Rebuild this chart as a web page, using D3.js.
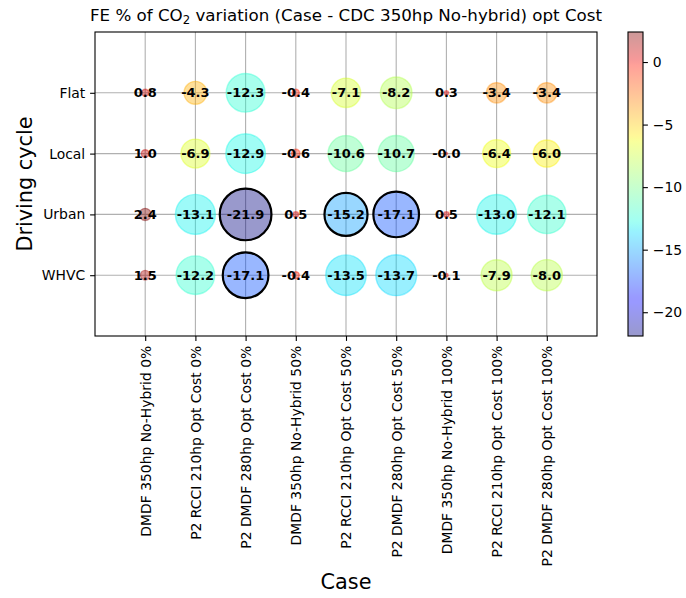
<!DOCTYPE html>
<html>
<head>
<meta charset="utf-8">
<script src="https://cdn.jsdelivr.net/npm/d3@7"></script>
<style>
  html, body { margin: 0; padding: 0; background: #fff; }
  svg { display: block; font-family: "DejaVu Sans", sans-serif; }
</style>
</head>
<body>
<svg id="chart" width="686" height="598"></svg>
<script>
// Case columns (x axis)
const cases = [
  "DMDF 350hp No-Hybrid 0%",
  "P2 RCCI 210hp Opt Cost 0%",
  "P2 DMDF 280hp Opt Cost 0%",
  "DMDF 350hp No-Hybrid 50%",
  "P2 RCCI 210hp Opt Cost 50%",
  "P2 DMDF 280hp Opt Cost 50%",
  "DMDF 350hp No-Hybrid 100%",
  "P2 RCCI 210hp Opt Cost 100%",
  "P2 DMDF 280hp Opt Cost 100%"
];

// Driving cycles, bottom to top
const cycles = ["WHVC", "Urban", "Local", "Flat"];

// FE % of CO2 variation per driving cycle, one value per case
const whvc  = [1.5, -12.2, -17.1, -0.4, -13.5, -13.7, -0.1, -7.9, -8.0];
const urban = [2.4, -13.1, -21.9, 0.5, -15.2, -17.1, 0.5, -13.0, -12.1];
const local = [1.0, -6.9, -12.9, -0.6, -10.6, -10.7, -0.04, -6.4, -6.0];
const flat  = [0.8, -4.3, -12.3, -0.4, -7.1, -8.2, 0.3, -3.4, -3.4];

const colorbarTicks = [0, -5, -10, -15, -20];

const seriesByCycle = [whvc, urban, local, flat];

// Flatten into cells
const cells = [];
seriesByCycle.forEach((vals, r) => {
  vals.forEach((v, c) => cells.push({ row: r, col: c, value: v }));
});

const svg = d3.select("#chart");
svg.append("rect").attr("width", 686).attr("height", 598).attr("fill", "#fff");

const ax = { left: 95, right: 597, top: 32, bottom: 336 };

const x = d3.scaleLinear().domain([-1, cases.length]).range([ax.left, ax.right]);
const y = d3.scaleLinear().domain([-1, cycles.length]).range([ax.bottom, ax.top]);

// Jet colormap built from its piecewise-linear segments
const jetR = d3.scaleLinear().domain([0, 0.35, 0.66, 0.89, 1]).range([0, 0, 1, 1, 0.5]).clamp(true);
const jetG = d3.scaleLinear().domain([0, 0.125, 0.375, 0.64, 0.91, 1]).range([0, 0, 1, 1, 0, 0]).clamp(true);
const jetB = d3.scaleLinear().domain([0, 0.11, 0.34, 0.65, 1]).range([0.5, 1, 1, 0, 0]).clamp(true);
const jet = t => d3.rgb(jetR(t) * 255, jetG(t) * 255, jetB(t) * 255).formatHex();

const allVals = cells.map(d => d.value);
const vmin = d3.min(allVals), vmax = d3.max(allVals);
const norm = d3.scaleLinear().domain([vmin, vmax]).range([0, 1]).clamp(true);
const color = v => jet(norm(v));

const alpha = 0.4;
// Bubble area follows |value|; gains draw at half the area of reductions
const radius = v => Math.sqrt((v < 0 ? 122 : 61) * Math.abs(v)) / 2;

const gridColor = "#b0b0b0";
const g = svg.append("g");

// Grid
g.append("g").selectAll("line").data(cases).join("line")
  .attr("x1", (d, i) => x(i)).attr("x2", (d, i) => x(i))
  .attr("y1", ax.top).attr("y2", ax.bottom)
  .attr("stroke", gridColor).attr("stroke-width", 1.1);
g.append("g").selectAll("line").data(cycles).join("line")
  .attr("y1", (d, i) => y(i)).attr("y2", (d, i) => y(i))
  .attr("x1", ax.left).attr("x2", ax.right)
  .attr("stroke", gridColor).attr("stroke-width", 1.1);

// Bubbles
g.append("g").selectAll("circle").data(cells).join("circle")
  .attr("cx", d => x(d.col)).attr("cy", d => y(d.row))
  .attr("r", d => radius(d.value))
  .attr("fill", d => color(d.value)).attr("fill-opacity", alpha)
  .attr("stroke", d => color(d.value)).attr("stroke-opacity", alpha).attr("stroke-width", 1.4);

// Outline the largest reductions
g.append("g").selectAll("circle").data(cells.filter(d => d.value < -15)).join("circle")
  .attr("cx", d => x(d.col)).attr("cy", d => y(d.row))
  .attr("r", d => radius(d.value))
  .attr("fill", "none").attr("stroke", "#000").attr("stroke-width", 2.2);

// Value labels
g.append("g").selectAll("text").data(cells).join("text")
  .attr("x", d => x(d.col)).attr("y", d => y(d.row))
  .attr("text-anchor", "middle").attr("dy", "0.36em")
  .attr("font-weight", "bold").attr("font-size", 13).attr("fill", "#000")
  .text(d => d.value.toFixed(1));

// Frame
svg.append("rect")
  .attr("x", ax.left).attr("y", ax.top)
  .attr("width", ax.right - ax.left).attr("height", ax.bottom - ax.top)
  .attr("fill", "none").attr("stroke", "#000").attr("stroke-width", 1.1);

// X axis
const xAxis = d3.axisBottom(x).tickValues(d3.range(cases.length))
  .tickFormat(i => cases[i]).tickSize(4.9).tickPadding(4.9);
const gx = svg.append("g").attr("transform", `translate(0,${ax.bottom})`).call(xAxis);
gx.select(".domain").remove();
gx.selectAll(".tick line").attr("stroke-width", 1.1);
gx.selectAll(".tick text")
  .attr("font-size", 13.9).attr("font-family", "DejaVu Sans").attr("fill", "#000")
  .attr("transform", "rotate(-90)")
  .attr("x", -9.8).attr("y", 0).attr("dy", "0.35em")
  .attr("text-anchor", "end");

// Y axis
const yAxis = d3.axisLeft(y).tickValues(d3.range(cycles.length))
  .tickFormat(i => cycles[i]).tickSize(4.9).tickPadding(4.9);
const gy = svg.append("g").attr("transform", `translate(${ax.left},0)`).call(yAxis);
gy.select(".domain").remove();
gy.selectAll(".tick line").attr("stroke-width", 1.1);
gy.selectAll(".tick text")
  .attr("font-size", 13.9).attr("font-family", "DejaVu Sans").attr("fill", "#000");

// Axis titles
svg.append("text")
  .attr("x", (ax.left + ax.right) / 2).attr("y", 589)
  .attr("text-anchor", "middle").attr("font-size", 20.8).text("Case");
svg.append("text")
  .attr("transform", `translate(32,${(ax.top + ax.bottom) / 2}) rotate(-90)`)
  .attr("text-anchor", "middle").attr("font-size", 20.8).text("Driving cycle");

// Title with CO2 subscript
const title = svg.append("text")
  .attr("x", (ax.left + ax.right) / 2).attr("y", 21)
  .attr("text-anchor", "middle").attr("font-size", 16.7);
title.append("tspan").text("FE % of CO");
title.append("tspan").attr("font-size", 11.7).attr("dy", 3).text("2");
title.append("tspan").attr("dy", -3).text(" variation (Case - CDC 350hp No-hybrid) opt Cost");

// Colorbar
const cb = { left: 628, width: 15 };
const cbScale = d3.scaleLinear().domain([vmin, vmax]).range([ax.bottom, ax.top]);
const defs = svg.append("defs");
const grad = defs.append("linearGradient").attr("id", "jetGrad")
  .attr("x1", 0).attr("y1", 1).attr("x2", 0).attr("y2", 0);
d3.range(0, 1.0001, 0.01).forEach(t => {
  grad.append("stop").attr("offset", t).attr("stop-color", jet(t));
});
svg.append("rect")
  .attr("x", cb.left).attr("y", ax.top).attr("width", cb.width).attr("height", ax.bottom - ax.top)
  .attr("fill", "url(#jetGrad)").attr("opacity", alpha);
svg.append("rect")
  .attr("x", cb.left).attr("y", ax.top).attr("width", cb.width).attr("height", ax.bottom - ax.top)
  .attr("fill", "none").attr("stroke", "#000").attr("stroke-width", 1.1);

const cbAxis = d3.axisRight(cbScale).tickValues(colorbarTicks)
  .tickFormat(d => (d < 0 ? "\u2212" : "") + Math.abs(d)).tickSize(4.9).tickPadding(4.9);
const gcb = svg.append("g").attr("transform", `translate(${cb.left + cb.width},0)`).call(cbAxis);
gcb.select(".domain").remove();
gcb.selectAll(".tick line").attr("stroke-width", 1.1);
gcb.selectAll(".tick text")
  .attr("font-size", 13.9).attr("font-family", "DejaVu Sans").attr("fill", "#000");
</script>
</body>
</html>
